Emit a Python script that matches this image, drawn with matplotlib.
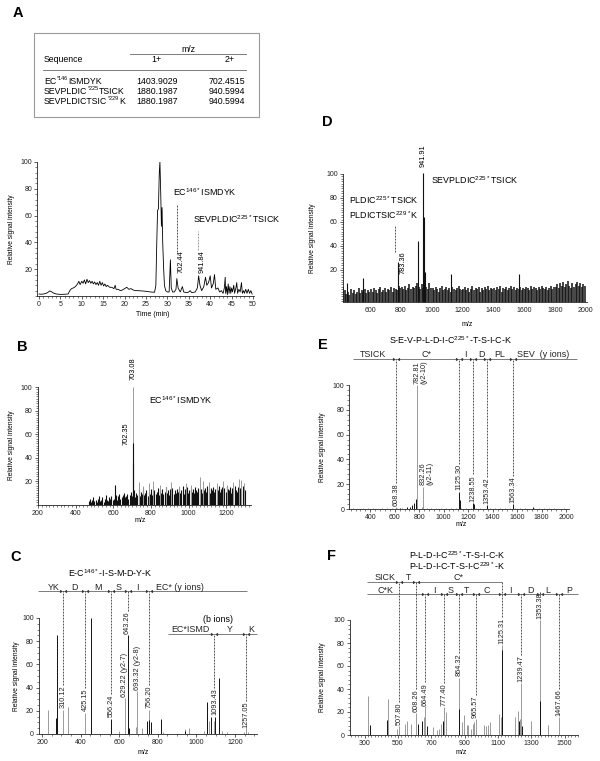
import matplotlib
matplotlib.use('Agg')
import matplotlib.pyplot as plt
from matplotlib.ticker import MultipleLocator, FixedLocator
from matplotlib.patches import Rectangle
from matplotlib.lines import Line2D

plt.rcParams['font.family'] = ['Liberation Sans', 'DejaVu Sans']
plt.rcParams['mathtext.default'] = 'regular'

# ---------------- data ----------------
table_seq_prefix = ['EC', 'SEVPLDIC', 'SEVPLDICTSIC']
table_seq_site = ['*146', '*225', '*229']
table_seq_suffix = ['ISMDYK', 'TSICK', 'K']
table_mz_1plus = ['1403.9029', '1880.1987', '1880.1987']
table_mz_2plus = ['702.4515', '940.5994', '940.5994']

chrom_time = [
    0, 0.5, 1, 1.5, 2, 2.5, 3, 3.5, 4, 5, 6, 6.8,
    7.2, 7.6, 8, 8.5, 9, 9.3, 9.6, 10, 10.3, 10.6,
    10.9, 11.2, 11.5, 11.8, 12.1, 12.4, 12.7, 13, 13.3, 13.6,
    13.9, 14.2, 14.5, 14.8, 15.1, 15.4, 15.7, 16, 16.5, 17,
    17.5, 17.8, 18, 18.5, 19, 19.5, 20, 20.5, 21, 21.5,
    22, 22.5, 23, 24, 25, 26, 27, 27.3, 27.5, 27.7,
    27.9, 28.1, 28.25, 28.45, 28.6, 28.75, 28.9, 29.1, 29.3, 29.6,
    30, 30.4, 30.7, 30.9, 31.2, 31.6, 32, 32.2, 32.5, 33,
    33.5, 33.8, 34.5, 35, 35.3, 35.7, 36.5, 37, 37.3, 37.6,
    38, 38.5, 38.9, 39.2, 39.6, 40, 40.3, 40.7, 41, 41.3,
    41.8, 42.2, 42.6, 43, 43.3, 43.5, 43.6, 43.8, 44, 44.2,
    44.4, 44.6, 44.8, 45, 45.2, 45.5, 45.7, 46, 46.2, 46.4,
    46.7, 47, 47.3, 47.5, 47.8, 48, 48.3, 48.6, 48.9, 49.2,
    49.5, 49.8]
chrom_int = [
    1.5, 1.3, 1.5, 1.8, 2.5, 3.8, 3.0, 2.0, 1.5, 1.2, 1.3, 1.5,
    4, 5.5, 6, 7, 9, 11, 8.5, 11, 9.5, 12,
    9, 12.5, 10, 11.5, 9.5, 11, 9, 10.5, 8.5, 10,
    8, 11, 8, 10, 7.5, 9, 7, 8, 6.5, 6.5,
    5.5, 8, 5, 5, 4, 4.5, 5.5, 6.5, 5, 5.5,
    4.5, 4, 4, 3.8, 3.5, 3, 2.8, 8, 38, 64,
    65, 92, 100, 75, 52, 66, 40, 22, 8, 4,
    3, 3, 27, 6, 3, 3, 5, 13, 6, 3,
    7, 3, 2.5, 3, 4, 2.5, 3, 6, 15, 8,
    4, 7, 14, 8, 10, 15, 6, 9, 16, 5,
    6, 3, 4, 2, 6, 14, 2, 7, 1, 9,
    2, 7, 2, 6, 3, 8, 2, 6, 10, 2,
    5, 3, 10, 2, 4, 2, 5, 2, 5, 2,
    4, 1.5]

# panel B : full MS of EC*ISMDYK
b_noise_start, b_noise_step = 470, 6
b_noise_int = [
    3, 5, 2, 4, 6, 3, 4, 2, 5, 7, 3, 4, 6, 2, 5, 8, 4, 3, 6, 5, 7, 4,
    5, 6, 8, 4, 7, 9, 5, 6, 8, 10, 6, 7, 9, 5, 8, 11, 7,
    9, 12, 6, 10, 8, 13, 7, 11, 9, 14, 8, 10, 12, 7, 11, 9, 13, 8, 10, 12,
    9, 11, 14, 8, 12, 10, 13, 9, 11, 15, 10, 12, 8, 13, 11, 14, 9, 12, 10, 13,
    11, 14, 10, 12, 16, 9, 13, 11, 15, 10, 12, 14, 11, 13, 10, 15, 12, 11, 14, 12,
    13, 10, 15, 12, 14, 11, 16, 13, 10, 14, 12, 15, 11, 13, 14, 12, 16, 11, 13, 15,
    12, 14, 11, 16, 13, 12, 15, 10, 14, 13, 16, 12, 11, 15, 13, 14, 12, 16, 13, 12]
b_gray_mz = [703.08, 735, 760, 790, 810, 850, 880, 905, 950, 985, 1010, 1060, 1075,
             1110, 1150, 1180, 1205, 1235, 1265, 1280, 1295]
b_gray_int = [100, 19, 16, 18, 20, 17, 15, 19, 16, 18, 17, 23, 20,
              19, 18, 20, 17, 19, 22, 21, 18]
b_black_mz = [608, 702.35, 704.6]
b_black_int = [17, 52, 35]

# panel C : MS/MS of EC*ISMDYK
c_gray_mz = [229, 310.12, 336, 425.15, 599, 629.22, 687, 693.32, 716, 756.20, 829,
             941, 963, 1039, 1067, 1093.43, 1132, 1157, 1248, 1257.05, 1269]
c_gray_int = [21, 21, 23, 18, 3, 31, 6, 37, 5, 21, 2,
              4, 5, 3, 11, 11, 3, 2, 2, 5, 2]
c_black_mz = [274, 276, 452, 556.24, 643.26, 650, 744, 752, 763, 815,
              943, 1053, 1056, 1074, 1097, 1117]
c_black_int = [14, 85, 100, 13, 85, 5, 11, 12, 10, 13,
               3, 28, 16, 15, 15, 48]

# panel D : full MS of SEVPLDIC*TSICK
d_noise_start, d_noise_step = 395, 10
d_noise_int = [
    8, 2, 1, 6, 3, 0, 2, -1, 4, 1, 3, 0, 2, 5, 1, 3, 2, 4, 1, 3, 2,
    4, 2, 5, 3, 1, 4, 6, 2, 3, 5, 2, 4, 3, 6, 2, 5, 4, 3, 7, 5,
    6, 4, 7, 3, 5, 8, 4, 6, 5, 7, 9, 6, 4, 8, 5, 7, 6, 4, 9, 5,
    5, 3, 6, 4, 2, 5, 7, 3, 4, 6, 3, 5, 2, 6, 4, 3, 5, 7, 4, 3,
    4, 6, 3, 5, 2, 4, 7, 3, 5, 4, 6, 2, 5, 3, 6, 4, 7, 3, 5, 4,
    5, 3, 6, 4, 7, 2, 5, 4, 6, 3, 5, 7, 4, 6, 3, 5, 4, 6, 3, 5,
    4, 6, 5, 3, 7, 4, 6, 5, 3, 6, 4, 7, 5, 4, 6, 3, 5, 7, 4, 6,
    6, 8, 5, 9, 7, 10, 6, 8, 11, 7, 5, 9, 6, 8, 10, 7, 9, 6, 8, 7]
d_peak_mz = [447, 551, 783.36, 908, 941.91, 947, 955, 1123, 1567]
d_peak_int = [9, 13, 27, 44, 101, 64, 18, 17, 17]

# panel E : MS/MS of SEVPLDIC225*TSICK
e_noise_start, e_noise_step = 260, 40
e_noise_int = [0.8, 0.4, 1.0, 0.6, 0.9, 0.3, 0.7, 1.1, 0.5, 0.8,
               1.2, 0.6, 0.9, 1.5, 2.0, 1.0, 0.7, 0.5, 0.9, 0.6,
               0.8, 1.0, 0.5, 0.7, 1.2, 0.6, 0.9, 0.4, 0.8, 1.0,
               0.5, 0.7, 0.9, 1.1, 0.6, 0.8, 0.4, 0.7, 0.9, 0.5,
               0.6, 0.8, 0.4, 0.7]
e_gray_mz = [608.38, 782.81, 832.26]
e_gray_int = [1.5, 100, 18]
e_black_mz = [640, 700, 722, 745, 760, 770, 776, 1125.30, 1130, 1238.55, 1244,
              1353.42, 1563.34, 1568, 1730]
e_black_int = [1, 1.5, 2, 3, 5, 8, 4, 14, 7, 5, 4, 3, 4, 2, 2]

# panel F : MS/MS of PLDIC*TSICK
f_gray_mz = [322, 442, 492, 507.80, 544, 552, 580, 608.26, 656, 664.49, 708, 736, 748,
             756, 777.40, 788, 864.32, 882, 898, 912, 922, 936, 948, 956, 965.57,
             1018, 1028, 1042, 1052, 1108, 1118, 1125.31, 1200, 1218, 1232, 1239.47,
             1296, 1353.38, 1402, 1467.66]
f_gray_int = [34, 31, 5, 8, 10, 12, 10, 19, 16, 25, 7, 4, 5,
              10, 24, 20, 50, 11, 17, 9, 9, 5, 10, 11, 14,
              9, 8, 9, 11, 18, 16, 78, 16, 21, 14, 45,
              12, 100, 9, 16]
f_black_mz = [330, 436, 620, 642, 672, 770, 864.32, 1125.31, 1226, 1244, 1353.38]
f_black_int = [9, 13, 10, 12, 8, 12, 23, 74, 12, 8, 30]

# ---------------- figure ----------------
W, H = 600, 761
fig = plt.figure(figsize=(W / 100, H / 100), dpi=100)
renderer = fig.canvas.get_renderer()

TICK_FS = 5
YLAB_FS = 4.8
ANN_FS = 5.3
FRAG_FS = 6.4
GRAY = '#9a9a9a'
BLACK = '#111111'


def px_axes(l, t, r, b):
    return fig.add_axes([l / W, 1 - b / H, (r - l) / W, (b - t) / H])


def ftext(x, y, s, **kw):
    return fig.text(x / W, 1 - y / H, s, **kw)


def fline(x0, y0, x1, y1, **kw):
    fig.add_artist(Line2D([x0 / W, x1 / W], [1 - y0 / H, 1 - y1 / H], **kw))


def sup_text(x, y, pieces, fs):
    """Write text pieces left to right; pieces flagged True are small raised superscripts."""
    cur = x
    for s, sup in pieces:
        t = ftext(cur, y - (2.3 if sup else 0), s, ha='left', va='center',
                  fontsize=fs * 0.62 if sup else fs)
        cur += t.get_window_extent(renderer).width + (0.3 if sup else 0.2)


def style(ax, xmaj, xmin, yticks, ymin, xtickmarks=True):
    for s in ['top', 'right']:
        ax.spines[s].set_visible(False)
    for s in ['left', 'bottom']:
        ax.spines[s].set_linewidth(0.6)
        ax.spines[s].set_color('#222222')
    ax.xaxis.set_major_locator(FixedLocator(xmaj))
    ax.xaxis.set_minor_locator(MultipleLocator(xmin))
    ax.yaxis.set_major_locator(FixedLocator(yticks))
    ax.yaxis.set_minor_locator(MultipleLocator(ymin))
    ax.tick_params(which='major', length=2.2, width=0.5, labelsize=TICK_FS, pad=1.5,
                   colors='#222222')
    ax.tick_params(which='minor', length=1.1, width=0.4, colors='#222222')
    if not xtickmarks:
        ax.tick_params(axis='x', which='both', length=0, pad=4)
    ax.patch.set_alpha(0)


def bars(ax, mz, inten, color, lw=0.6, base=0, clip=True):
    ax.vlines(mz, base, inten, colors=color, linewidth=lw, clip_on=clip)


def frag_row(ax, x0, x1, y, cuts, labels, ppx, ppy):
    ax.plot([x0, x1], [y, y], color='#666666', lw=0.6, clip_on=False, solid_capstyle='butt')
    d = 2.0 / ppx
    for c in cuts:
        ax.plot([c - d], [y], marker=5, ms=1.4, color='#333333', clip_on=False)
        ax.plot([c + d], [y], marker=4, ms=1.4, color='#333333', clip_on=False)
    for x, s in labels:
        ax.text(x, y + 1.8 / ppy, s, ha='center', va='baseline', fontsize=FRAG_FS,
                clip_on=False, color='#222222')


def peak_labels(ax, items):
    out = []
    for x, s, yb in items:
        out.append(ax.text(x, yb, s, rotation=90, ha='center', va='bottom', fontsize=ANN_FS,
                           clip_on=False, linespacing=1.0, color='#222222'))
    return out


pending_dashes = []


def dash_from_text(ax, x, txt, ytop):
    pending_dashes.append((ax, x, txt, ytop))


DASH = dict(ls=(0, (2.2, 1.4)), lw=0.6, color='#333333', clip_on=False)

# ---- panel letters ----
for lx, ly, s in [(13, 13, 'A'), (17, 347, 'B'), (10, 557, 'C'),
                  (322, 122, 'D'), (318, 345, 'E'), (327, 556, 'F')]:
    ftext(lx, ly, s, fontsize=10.5, fontweight='bold', ha='left', va='center')

# ---- table (A) ----
fig.add_artist(Rectangle((34 / W, 1 - 117 / H), 225 / W, 84 / H, transform=fig.transFigure,
                         fill=False, edgecolor='#9a9a9a', lw=0.8))
TFS = 6.3
ftext(188, 49, 'm/z', ha='center', va='center', fontsize=TFS)
fline(130, 53.5, 246, 53.5, color='#666666', lw=0.6)
ftext(44, 60, 'Sequence', ha='left', va='center', fontsize=TFS)
ftext(156, 60, '1+', ha='center', va='center', fontsize=TFS)
ftext(230, 60, '2+', ha='center', va='center', fontsize=TFS)
fline(43, 69.5, 246, 69.5, color='#666666', lw=0.6)
for i in range(len(table_seq_prefix)):
    yy = 81 + 10 * i
    sup_text(44, yy, [(table_seq_prefix[i], False), (table_seq_site[i], True),
                      (table_seq_suffix[i], False)], TFS)
    ftext(136, yy, table_mz_1plus[i], ha='left', va='center', fontsize=TFS)
    ftext(245, yy, table_mz_2plus[i], ha='right', va='center', fontsize=TFS)

# ---- chromatogram (A) ----
axA = px_axes(37.3, 162, 254.3, 296)
axA.plot(chrom_time, chrom_int, color='black', lw=0.6)
axA.set_xlim(-0.4, 50.3)
axA.set_ylim(0, 100)
style(axA, list(range(0, 51, 5)), 1, [20, 40, 60, 80, 100], 4)
ftext(153, 315, 'Time (min)', ha='center', va='center', fontsize=5)
ftext(12, 229, 'Relative signal intensity', rotation=90, ha='center', va='center', fontsize=YLAB_FS)
axA.text(31.3, 77.6, r'EC$^{146*}$ISMDYK', ha='left', va='center', fontsize=6.4, clip_on=False)
axA.plot([32.3, 32.3], [33, 69], **DASH)
axA.text(33.3, 17.5, '702.44', rotation=90, ha='center', va='bottom', fontsize=ANN_FS)
axA.text(36.0, 57, r'SEVPLDIC$^{225*}$TSICK', ha='left', va='center', fontsize=6.4, clip_on=False)
axA.plot([37.2, 37.2], [34, 48.5], ls=(0, (2.2, 1.4)), lw=0.6, color='#888888')
axA.text(38.1, 17.5, '941.84', rotation=90, ha='center', va='bottom', fontsize=ANN_FS)

# ---- panel B ----
axB = px_axes(37.6, 387, 250.8, 504.5)
b_noise_mz = [b_noise_start + b_noise_step * i for i in range(len(b_noise_int))]
bars(axB, b_noise_mz, b_noise_int, BLACK, lw=0.8)
bars(axB, b_gray_mz, b_gray_int, GRAY, lw=0.7)
bars(axB, b_black_mz, b_black_int, BLACK, lw=0.8)
axB.set_xlim(198, 1330)
axB.set_ylim(0, 100)
style(axB, [200, 400, 600, 800, 1000, 1200], 20, [20, 40, 60, 80, 100], 2)
ftext(140, 521, 'm/z', ha='center', va='center', fontsize=5)
ftext(12, 445, 'Relative signal intensity', rotation=90, ha='center', va='center', fontsize=YLAB_FS)
axB.text(703.08, 106, '703.08', rotation=90, ha='center', va='bottom', fontsize=ANN_FS, clip_on=False)
axB.text(667, 51, '702.35', rotation=90, ha='center', va='bottom', fontsize=ANN_FS)
axB.text(791, 89, r'EC$^{146*}$ISMDYK', ha='left', va='center', fontsize=6.4)

# ---- panel C ----
axC = px_axes(38.9, 618, 257, 734)
bars(axC, c_gray_mz, c_gray_int, GRAY, lw=0.7)
bars(axC, c_black_mz, c_black_int, BLACK, lw=0.7)
axC.set_xlim(184, 1314)
axC.set_ylim(0, 100)
style(axC, [200, 400, 600, 800, 1000, 1200], 50, [0, 20, 40, 60, 80, 100], 5)
ftext(143, 752, 'm/z', ha='center', va='center', fontsize=5)
ftext(17, 676, 'Relative signal intensity', rotation=90, ha='center', va='center', fontsize=YLAB_FS)
cppx, cppy = 0.193, 1.16
axC.text(552, 139, r'E-C$^{146*}$-I-S-M-D-Y-K', ha='center', va='center', fontsize=FRAG_FS,
         clip_on=False)
frag_row(axC, 179, 1262, 123, [310.12, 425.15, 556.24, 643.26, 756.20],
         [(259, 'YK'), (366, 'D'), (489, 'M'), (599, 'S'), (694, 'I'), (915, 'EC* (y ions)')],
         cppx, cppy)
axC.text(1112, 99, '(b ions)', ha='center', va='center', fontsize=FRAG_FS, clip_on=False)
frag_row(axC, 853, 1314, 86, [1093.43, 1257.05],
         [(967, 'EC*ISMD'), (1174, 'Y'), (1286, 'K')], cppx, cppy)
c_lab = peak_labels(axC, [(310.12, '310.12', 22), (425.15, '425.15', 19.5), (556.24, '556.24', 14.5),
                          (629.22, '629.22 (y2-7)', 32), (643.26, '643.26', 86),
                          (693.32, '693.32 (y2-8)', 38), (756.20, '756.20', 22),
                          (1093.43, '1093.43', 16), (1257.05, '1257.05', 5.5)])
for idx, x in [(0, 310.12), (1, 425.15), (2, 556.24), (4, 643.26), (6, 756.20)]:
    dash_from_text(axC, x, c_lab[idx], 123)
for idx, x in [(7, 1093.43), (8, 1257.05)]:
    dash_from_text(axC, x, c_lab[idx], 86)

# ---- panel D ----
axD = px_axes(343, 174, 586.9, 301.8)
d_noise_mz = [d_noise_start + d_noise_step * i for i in range(len(d_noise_int))]
bars(axD, d_noise_mz, d_noise_int, BLACK, lw=1.1, base=-6.5)
bars(axD, d_peak_mz, d_peak_int, BLACK, lw=0.8, base=-6.5, clip=False)
axD.set_xlim(423, 2009)
axD.set_ylim(-6.5, 100)
style(axD, list(range(600, 2001, 200)), 50, [20, 40, 60, 80, 100], 2, xtickmarks=False)
ftext(467, 325, 'm/z', ha='center', va='center', fontsize=5)
ftext(313, 238, 'Relative signal intensity', rotation=90, ha='center', va='center', fontsize=YLAB_FS)
axD.text(941.91, 106, '941.91', rotation=90, ha='center', va='bottom', fontsize=ANN_FS, clip_on=False)
axD.text(993, 95, r'SEVPLDIC$^{225*}$TSICK', ha='left', va='center', fontsize=6.4)
axD.text(464, 78, r'PLDIC$^{225*}$TSICK', ha='left', va='center', fontsize=6.4)
axD.text(464, 66, r'PLDICTSIC$^{229*}$K', ha='left', va='center', fontsize=6.4)
axD.plot([761, 761], [35, 57], **DASH)
axD.text(815, 17, '783.36', rotation=90, ha='center', va='bottom', fontsize=ANN_FS)

# ---- panel E ----
axE = px_axes(349.4, 385, 568.6, 509)
e_noise_mz = [e_noise_start + e_noise_step * i for i in range(len(e_noise_int))]
bars(axE, e_noise_mz, e_noise_int, '#666666', lw=0.5)
bars(axE, e_gray_mz, e_gray_int, GRAY, lw=0.7)
bars(axE, e_black_mz, e_black_int, BLACK, lw=0.7)
axE.set_xlim(230, 2020)
axE.set_ylim(0, 100)
style(axE, list(range(400, 2001, 200)), 40, [0, 20, 40, 60, 80, 100], 4)
ftext(461, 525, 'm/z', ha='center', va='center', fontsize=5)
ftext(323, 447, 'Relative signal intensity', rotation=90, ha='center', va='center', fontsize=YLAB_FS)
eppx, eppy = 0.1225, 1.24
ftext(450, 340, r'S-E-V-P-L-D-I-C$^{225*}$-T-S-I-C-K', ha='center', va='center', fontsize=FRAG_FS)
frag_row(axE, 262, 2086, 121, [608.38, 1125.30, 1238.55, 1353.42, 1563.34],
         [(426, 'TSICK'), (856, 'C*'), (1180, 'I'), (1305, 'D'), (1454, 'PL'),
          (1813, 'SEV  (y ions)')], eppx, eppy)
e_lab = peak_labels(axE, [(608.38, '608.38', 2.5), (812, '782.81\n(y2-10)', 100.5),
                          (862, '832.26\n(y2-11)', 19), (1125.30, '1125.30', 15),
                          (1238.55, '1238.55', 6), (1353.42, '1353.42', 4),
                          (1563.34, '1563.34', 5)])
for idx, x in [(0, 608.38), (3, 1125.30), (4, 1238.55), (5, 1353.42), (6, 1563.34)]:
    dash_from_text(axE, x, e_lab[idx], 121)

# ---- panel F ----
axF = px_axes(350, 620, 578, 735)
bars(axF, f_gray_mz, f_gray_int, GRAY, lw=0.7)
bars(axF, f_black_mz, f_black_int, BLACK, lw=0.7)
axF.set_xlim(212, 1580)
axF.set_ylim(0, 100)
style(axF, list(range(300, 1501, 200)), 20, [0, 20, 40, 60, 80, 100], 4)
ftext(461, 752, 'm/z', ha='center', va='center', fontsize=5)
ftext(323, 677, 'Relative signal intensity', rotation=90, ha='center', va='center', fontsize=YLAB_FS)
fppx, fppy = 0.1667, 1.15
ftext(457, 555, r'P-L-D-I-C$^{225*}$-T-S-I-C-K', ha='center', va='center', fontsize=FRAG_FS)
ftext(457, 566, r'P-L-D-I-C-T-S-I-C$^{229*}$-K', ha='center', va='center', fontsize=FRAG_FS)
frag_row(axF, 312, 1125.31, 132.8, [507.80, 608.26],
         [(422, 'SICK'), (562, 'T'), (862, 'C*')], fppx, fppy)
frag_row(axF, 312, 1582, 122.3, [664.49, 777.40, 864.32, 965.57, 1125.31, 1239.47, 1353.38, 1467.66],
         [(422, 'C*K'), (716, 'I'), (816, 'S'), (912, 'T'), (1032, 'C'), (1176, 'I'),
          (1292, 'D'), (1396, 'L'), (1528, 'P')], fppx, fppy)
f_lab = peak_labels(axF, [(507.80, '507.80', 9), (608.26, '608.26', 20), (664.49, '664.49', 25.5),
                          (777.40, '777.40', 25), (864.32, '864.32', 51), (965.57, '965.57', 15),
                          (1125.31, '1125.31', 79), (1239.47, '1239.47', 46),
                          (1353.38, '1353.38', 101), (1467.66, '1467.66', 16.5)])
for idx, x in [(0, 507.80), (1, 608.26), (6, 1125.31)]:
    dash_from_text(axF, x, f_lab[idx], 132.8)
for idx, x in [(2, 664.49), (3, 777.40), (4, 864.32), (5, 965.57), (7, 1239.47),
               (8, 1353.38), (9, 1467.66)]:
    dash_from_text(axF, x, f_lab[idx], 122.3)

# ---- dashed connectors from fragment rows to peak labels ----
for ax, x, txt, ytop in pending_dashes:
    bb = txt.get_window_extent(renderer)
    ybot = ax.transData.inverted().transform((0, bb.y1))[1]
    ax.plot([x, x], [ybot + 0.5, ytop], **DASH)

fig.savefig('out.png', dpi=100)
